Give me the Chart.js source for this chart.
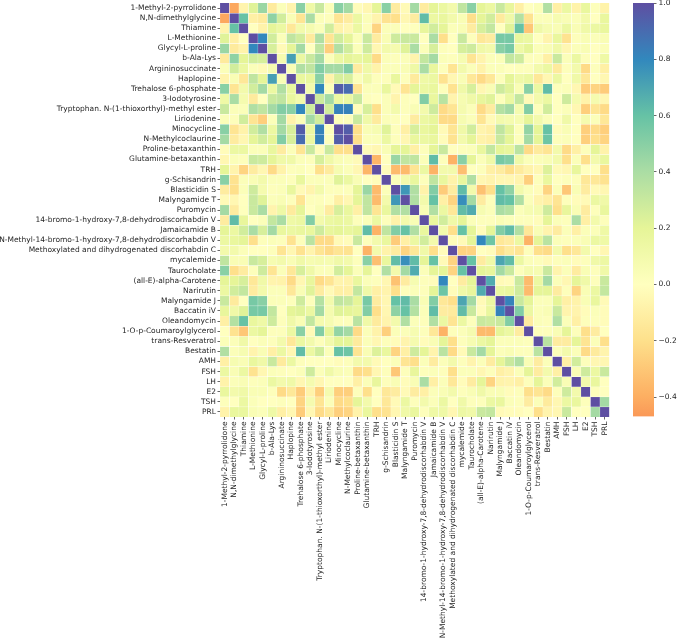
<!DOCTYPE html>
<html>
<head>
<meta charset="utf-8">
<script src="https://cdn.jsdelivr.net/npm/chart.js@4"></script>
<style>
    body { margin: 0; background: #fff; }
    canvas { position: absolute; left: 0; top: 0; }
</style>
</head>
<body>
<canvas id="heatmap" width="677" height="638"></canvas>
<canvas id="colorbar" width="677" height="638"></canvas>
<script>
const names = ['1-Methyl-2-pyrrolidone', 'N,N-dimethylglycine', 'Thiamine', 'L-Methionine', 'Glycyl-L-proline', 'b-Ala-Lys', 'Argininosuccinate', 'Haplopine', 'Trehalose 6-phosphate', '3-Iodotyrosine', 'Tryptophan. N-(1-thioxorthyl)-methyl ester', 'Liriodenine', 'Minocycline', 'N-Methylcoclaurine', 'Proline-betaxanthin', 'Glutamine-betaxanthin', 'TRH', 'g-Schisandrin', 'Blasticidin S', 'Malyngamide T', 'Puromycin', '14-bromo-1-hydroxy-7,8-dehydrodiscorhabdin V', 'Jamaicamide B', 'N-Methyl-14-bromo-1-hydroxy-7,8-dehydrodiscorhabdin V', 'Methoxylated and dihydrogenated discorhabdin C', 'mycalemide', 'Taurocholate', '(all-E)-alpha-Carotene', 'Narirutin', 'Malyngamide J', 'Baccatin iV', 'Oleandomycin', '1-O-p-Coumaroylglycerol', 'trans-Resveratrol', 'Bestatin', 'AMH', 'FSH', 'LH', 'E2', 'TSH', 'PRL'];

// upper triangle of the correlation matrix, each row starts on the diagonal
const row00 = [1,-.42,-.07,.22,.45,-.13,.03,-.07,.5,.13,.3,.03,.5,.42,-.02,-.05,.2,.5,-.12,-.03,.42,-.12,.2,.15,.1,.33,.5,.2,.15,.3,.18,-.1,0,.03,.38,-.1,.15,-.08,.17,.02,-.08];
const row01 = [1,.6,-.1,-.13,.48,.27,.05,-.17,.4,.03,.02,-.17,-.12,.15,.03,-.07,-.18,-.2,-.05,-.12,.62,.15,.17,.1,.05,-.2,.2,.27,-.13,.12,.37,-.18,.03,.03,.07,.05,.03,.1,0,.17];
const row02 = [1,0,-.08,.2,.15,-.15,.1,.08,.03,.27,-.08,-.05,.15,.02,-.25,.03,.03,0,.01,.18,.27,.2,.03,.05,-.12,.25,.32,0,.22,.6,-.3,.12,.07,.05,.15,.05,.12,.15,.17];
const row03 = [1,.8,.27,.03,.33,.27,-.13,.38,-.17,.27,.2,.03,.3,-.12,.05,.28,.3,.3,0,.4,-.2,0,.3,.02,-.15,-.12,.55,.55,.17,.15,0,-.07,.17,-.18,.02,.05,.03,.05];
const row04 = [1,.25,-.03,.2,.42,0,.33,-.27,.38,.27,.03,.28,-.05,.1,.08,.22,.4,.03,.25,.02,0,.25,.28,.12,.1,.5,.55,.13,.2,.03,.05,.12,-.05,.03,.05,0,.03];
const row05 = [1,.08,.72,.15,.3,.42,.03,.15,.2,.17,.2,-.22,.03,.02,.03,-.07,.32,.42,.03,.02,.07,-.17,-.07,.03,.03,.32,.28,.02,.02,-.1,.3,.03,.15,.02,0,.13];
const row06 = [1,.05,.38,.33,.52,.42,.42,.52,-.12,.12,-.08,.03,.03,.05,.13,.4,.17,.02,-.17,.1,.03,-.08,.03,.03,0,.02,.02,.1,.15,-.13,.02,.1,-.22,.02,-.1];
const row07 = [1,.17,.17,.5,-.08,.25,.25,.03,.12,.02,.02,.17,.02,-.13,.13,.15,-.18,-.05,.05,-.15,-.22,-.15,.02,.2,.12,.15,-.15,-.05,.15,0,.12,-.15,0,-.05];
const row08 = [1,.1,.8,.03,.95,.9,-.17,.03,.03,.17,-.03,-.17,.2,.15,.17,.02,-.18,.12,.25,-.05,.05,.28,.22,.05,.5,.15,.62,.02,.03,-.05,-.28,-.25,-.28];
const row09 = [1,.28,.42,.15,.15,.3,.02,0,.03,-.07,.02,0,.52,.17,.35,-.07,.07,.12,.18,.22,.02,.15,.32,-.03,.1,.15,0,.28,.08,-.08,.08,-.05];
const row10 = [1,.27,.82,.82,-.02,.25,-.2,.03,.1,.02,.05,.1,.28,-.22,-.17,.08,.03,-.22,-.12,.37,.42,.08,.52,.02,.27,0,.03,-.05,-.27,-.17,-.22];
const row11 = [1,.02,.02,.3,.12,-.13,.03,.02,0,-.12,.15,.18,-.22,-.22,.07,.03,-.17,-.03,.1,.08,.07,.2,.1,.03,0,.12,0,.08,.03,-.15];
const row12 = [1,.95,-.2,.05,.07,.22,.02,-.1,.25,.17,.2,-.03,-.17,.12,.27,-.07,-.1,.33,.22,.02,.47,.2,.6,-.02,.05,0,-.27,-.22,-.27];
const row13 = [1,-.2,.03,.03,.15,.02,-.05,.17,.15,.17,-.02,-.18,.1,.2,-.08,-.1,.3,.2,.02,.42,.2,.58,.02,.03,0,-.27,-.2,-.25];
const row14 = [1,-.03,-.05,.05,.2,.2,-.1,.02,.2,.3,0,.02,.03,.17,.32,.2,.18,.35,-.22,-.13,-.17,.1,-.22,-.1,.02,.2,-.08];
const row15 = [1,-.37,0,.45,.33,.33,.03,.62,.02,-.38,.5,.2,.03,.12,.55,.52,.12,.03,.03,.05,.1,-.2,.03,-.2,.1,.17];
const row16 = [1,-.02,-.35,-.35,-.17,.15,-.38,.1,.1,-.33,0,.02,-.1,-.12,-.2,-.13,-.08,-.05,.23,-.03,-.05,.18,0,0,-.2];
const row17 = [1,.03,.1,.17,.02,.33,.17,-.08,.17,.38,-.05,-.07,-.05,-.05,-.07,-.27,.02,.17,0,.02,.02,-.15,-.15,-.18];
const row18 = [1,.75,.38,-.08,.52,-.28,-.12,.62,.1,-.32,-.2,.6,.48,.1,.03,-.02,-.25,.03,-.3,.05,-.12,-.03,-.05];
const row19 = [1,.38,.1,.6,-.1,-.25,.78,.42,-.12,.02,.62,.6,.38,.03,-.07,-.1,-.17,.02,-.02,-.03,.15,.12];
const row20 = [1,.05,.38,.15,-.15,.62,.68,.07,.03,.4,.37,.03,.07,.08,.28,-.2,.18,.05,-.12,.02,.17];
const row21 = [1,.17,.27,.12,.2,.03,.02,.02,.05,.03,.02,.02,-.02,.2,.03,.02,.4,-.1,.1,.02];
const row22 = [1,.1,-.2,.6,.2,-.02,.2,.52,.62,.38,-.15,.05,-.07,-.12,.03,-.1,.03,.03,.13];
const row23 = [1,-.02,-.03,.2,.8,.58,-.15,-.12,.15,-.38,.2,.35,.03,.02,.03,.05,.15,.13];
const row24 = [1,-.25,-.25,0,-.02,-.2,-.13,-.17,.02,-.2,-.22,.1,-.2,-.15,.1,0,-.05];
const row25 = [1,.6,-.12,.12,.7,.62,.15,.03,.02,-.03,.02,.03,-.02,.02,.12,.14];
const row26 = [1,.2,.18,.42,.3,.02,.08,.07,.3,-.07,.03,-.12,.05,.02,.12];
const row27 = [1,.68,-.03,-.02,.3,-.35,.15,.42,.03,-.05,.2,.12,.02,.3];
const row28 = [1,.15,.17,.28,-.35,.2,.2,-.12,.02,-.25,.05,.15,.32];
const row29 = [1,.82,.3,.2,.03,.03,.2,-.1,-.08,.05,.17,-.03];
const row30 = [1,.52,.15,.03,.05,.3,-.07,-.07,-.02,.03,-.02];
const row31 = [1,-.12,.03,.02,.38,.03,-.1,.02,.02,-.02];
const row32 = [1,.02,.02,.05,.2,.02,-.2,-.12,0];
const row33 = [1,.35,-.12,-.12,.2,-.17,.03,-.2];
const row34 = [1,.03,.1,.03,-.22,-.13,-.07];
const row35 = [1,-.1,.27,.02,-.05,-.05];
const row36 = [1,.05,.28,.15,.3];
const row37 = [1,.1,.17,0];
const row38 = [1,.02,0];
const row39 = [1,.42];
const row40 = [1];
const upperRows = [row00, row01, row02, row03, row04, row05, row06, row07, row08, row09, row10, row11, row12, row13, row14, row15, row16, row17, row18, row19, row20, row21, row22, row23, row24, row25, row26, row27, row28, row29, row30, row31, row32, row33, row34, row35, row36, row37, row38, row39, row40];

const barTicks = [-0.4, -0.2, 0, 0.2, 0.4, 0.6, 0.8, 1];
const barMin = -0.469;
const barMax = 1;

// Spectral colormap, centred on 0 like seaborn does
const spectral = [[158,1,66],[213,62,79],[244,109,67],[253,174,97],[254,224,139],[255,255,191],[230,245,152],[171,221,164],[102,194,165],[50,136,189],[94,79,162]];

const colorOf = (v) => {
    const t = Math.max(0, Math.min(1, (v + 1) / 2)) * 10;
    const i = Math.min(9, Math.floor(t));
    const f = t - i;
    const c = spectral[i].map((s, k) => Math.round(s + (spectral[i + 1][k] - s) * f));
    return `rgb(${c[0]},${c[1]},${c[2]})`;
};

// mirror the upper triangle
const valueAt = (r, c) => r <= c ? upperRows[r][c - r] : upperRows[c][r - c];

const textColor = '#262626';
const tickFont = { family: 'DejaVu Sans', size: 7.5 };

// keep the plot box where it is, tick labels must not push it around
const noAxisPadding = (axis) => {
    axis.paddingTop = 0;
    axis.paddingBottom = 0;
    axis.paddingLeft = 0;
    axis.paddingRight = 0;
};

// one dataset per row, each bar is one cell spanning its row on the y scale
const rowDatasets = names.map((name, r) => ({
    label: name,
    data: names.map(() => [r, r + 1]),
    backgroundColor: names.map((n, c) => colorOf(valueAt(r, c))),
    borderColor: '#ffffff',
    borderWidth: 0.4,
    borderSkipped: false,
    barPercentage: 1,
    categoryPercentage: 1,
    grouped: false
}));

new Chart(document.getElementById('heatmap'), {
    type: 'bar',
    data: { labels: names, datasets: rowDatasets },
    options: {
        responsive: false,
        animation: false,
        layout: { padding: { top: 3, right: 67.5, bottom: 0, left: 0 } },
        plugins: { legend: { display: false }, tooltip: { enabled: false } },
        scales: {
            x: {
                type: 'category',
                grid: { drawOnChartArea: false, offset: false, tickLength: 2.5, tickColor: textColor, tickWidth: 0.7 },
                border: { display: false },
                ticks: { autoSkip: false, minRotation: 90, maxRotation: 90, color: textColor, font: tickFont, padding: 2 },
                afterFit: (axis) => { axis.height = 221; noAxisPadding(axis); }
            },
            y: {
                type: 'linear',
                reverse: true,
                min: 0,
                max: names.length,
                grid: { drawOnChartArea: false, tickLength: 2.5, tickColor: textColor, tickWidth: 0.7 },
                border: { display: false },
                afterBuildTicks: (axis) => { axis.ticks = names.map((n, i) => ({ value: i + 0.5 })); },
                ticks: { autoSkip: false, color: textColor, font: tickFont, padding: 1.5, callback: (v) => names[Math.floor(v)] },
                afterFit: (axis) => { axis.width = 220; noAxisPadding(axis); }
            }
        }
    }
});

const barGradient = (context) => {
    const chart = context.chart;
    const area = chart.chartArea;
    if (!area) return '#ffffff';
    const g = chart.ctx.createLinearGradient(0, area.bottom, 0, area.top);
    [barMin, -0.4, -0.2, 0, 0.2, 0.4, 0.6, 0.8, 1].forEach((v) => {
        g.addColorStop((v - barMin) / (barMax - barMin), colorOf(v));
    });
    return g;
};

new Chart(document.getElementById('colorbar'), {
    type: 'bar',
    data: {
        labels: ['scale'],
        datasets: [{ data: [[barMin, barMax]], backgroundColor: barGradient, barPercentage: 1, categoryPercentage: 1 }]
    },
    options: {
        responsive: false,
        animation: false,
        layout: { padding: { top: 3, right: 0, bottom: 221.5, left: 633 } },
        plugins: { legend: { display: false }, tooltip: { enabled: false } },
        scales: {
            x: { display: false },
            y: {
                position: 'right',
                min: barMin,
                max: barMax,
                grid: { drawOnChartArea: false, tickLength: 2.5, tickColor: textColor, tickWidth: 0.7 },
                border: { display: false },
                afterBuildTicks: (axis) => { axis.ticks = barTicks.map((v) => ({ value: v })); },
                ticks: {
                    color: textColor,
                    font: tickFont,
                    padding: 2,
                    callback: (v) => (v < 0 ? '\u2212' : '') + Math.abs(v).toFixed(1)
                },
                afterFit: (axis) => { axis.width = 23; noAxisPadding(axis); }
            }
        }
    }
});
</script>
</body>
</html>
